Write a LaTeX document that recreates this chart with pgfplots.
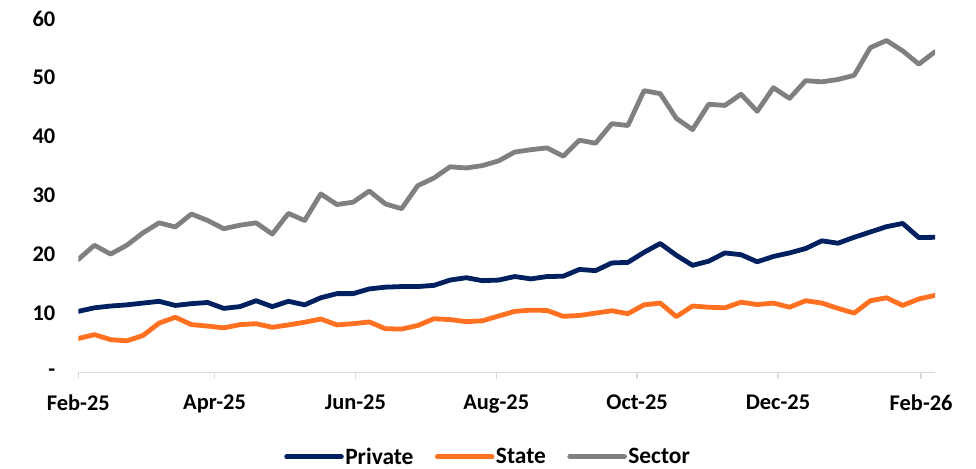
\documentclass[border=0pt]{standalone}
\usepackage{fontspec}
\setmainfont{Carlito}
\usepackage{pgfplots}
\pgfplotsset{compat=1.18}
\definecolor{cNavy}{RGB}{0,32,96}
\definecolor{cOrange}{RGB}{255,112,32}
\definecolor{cGray}{RGB}{128,128,128}
\definecolor{cAxis}{RGB}{217,217,217}
\pgfplotstableread{
x y
0 10.4
7 11.0
14 11.3
21 11.5
28 11.8
35 12.1
42 11.4
49 11.7
56 11.9
63 10.9
70 11.2
77 12.2
84 11.2
91 12.1
98 11.5
105 12.7
112 13.4
119 13.4
126 14.2
133 14.5
140 14.6
147 14.6
154 14.8
161 15.7
168 16.1
175 15.6
182 15.7
189 16.3
196 15.9
203 16.3
210 16.35
217 17.5
224 17.3
231 18.6
238 18.7
245 20.4
252 21.9
259 19.9
266 18.2
273 18.9
280 20.3
287 20.0
294 18.8
301 19.7
308 20.3
315 21.05
322 22.35
329 21.95
336 22.95
343 23.85
350 24.75
357 25.3
364 22.9
371 22.95
}\privatedata
\pgfplotstableread{
x y
0 5.8
7 6.45
14 5.6
21 5.4
28 6.3
35 8.4
42 9.4
49 8.15
56 7.9
63 7.6
70 8.15
77 8.3
84 7.7
91 8.1
98 8.55
105 9.1
112 8.1
119 8.3
126 8.6
133 7.45
140 7.4
147 8.0
154 9.15
161 9.0
168 8.65
175 8.8
182 9.6
189 10.4
196 10.6
203 10.55
210 9.55
217 9.7
224 10.1
231 10.5
238 10.0
245 11.5
252 11.8
259 9.5
266 11.3
273 11.1
280 11.0
287 11.95
294 11.55
301 11.8
308 11.1
315 12.2
322 11.8
329 10.9
336 10.1
343 12.2
350 12.7
357 11.4
364 12.5
371 13.1
}\statedata
\pgfplotstableread{
x y
0 19.2
7 21.6
14 20.1
21 21.6
28 23.7
35 25.4
42 24.7
49 26.9
56 25.8
63 24.4
70 25.0
77 25.4
84 23.5
91 27.0
98 25.8
105 30.3
112 28.5
119 28.9
126 30.8
133 28.6
140 27.8
147 31.7
154 33.0
161 34.9
168 34.7
175 35.1
182 35.9
189 37.4
196 37.8
203 38.1
210 36.7
217 39.4
224 38.9
231 42.2
238 41.9
245 47.8
252 47.3
259 43.1
266 41.2
273 45.5
280 45.3
287 47.2
294 44.3
301 48.3
308 46.5
315 49.5
322 49.3
329 49.7
336 50.4
343 55.1
350 56.3
357 54.55
364 52.3
371 54.4
}\sectordata
\begin{document}
\begin{tikzpicture}
\begin{axis}[
  scale only axis,
  width=856.7bp, height=354bp,
  xmin=0, xmax=371, ymin=0, ymax=60,
  axis x line*=bottom,
  axis y line*=left,
  x axis line style={draw=cAxis, line width=1.5bp, -},
  y axis line style={draw=none},
  xtick={0,59,120,181,242,303,365},
  xticklabels={Feb-25,Apr-25,Jun-25,Aug-25,Oct-25,Dec-25,Feb-26},
  ytick={0,10,20,30,40,50,60},
  yticklabels={{-\hspace{14bp}},10,20,30,40,50,60},
  tick align=outside,
  xtick style={draw=cAxis, line width=1.5bp},
  major tick length=6.5bp,
  ytick style={draw=none},
  tick label style={font=\fontsize{22.5}{26}\selectfont\bfseries, text=black},
  xticklabel style={yshift=-12bp},
  yticklabel style={xshift=-13bp},
  legend style={
    at={(0.478,-0.237)}, anchor=center,
    legend columns=3, draw=none, fill=none,
    font=\fontsize{23.5}{27}\selectfont\bfseries,
    inner sep=0pt,
    nodes={inner sep=1.5bp},
    /tikz/every even column/.append style={column sep=20bp},
  },
  legend image code/.code={\draw[#1, line width=4.5bp] (0bp,0bp) -- (55bp,0bp);},
  every axis plot/.append style={line width=4.8bp, line join=round, line cap=round},
]
\addplot[cNavy, no markers] table[x=x,y=y] {\privatedata};
\addlegendentry{Private}
\addplot[cOrange, no markers] table[x=x,y=y] {\statedata};
\addlegendentry{State}
\addplot[cGray, no markers] table[x=x,y=y] {\sectordata};
\addlegendentry{Sector}
\end{axis}
\pgfresetboundingbox
\path[use as bounding box] (current axis.south west) ++(-78.3bp,-96.3bp) rectangle ++(976bp,469bp);
\end{tikzpicture}
\end{document}
